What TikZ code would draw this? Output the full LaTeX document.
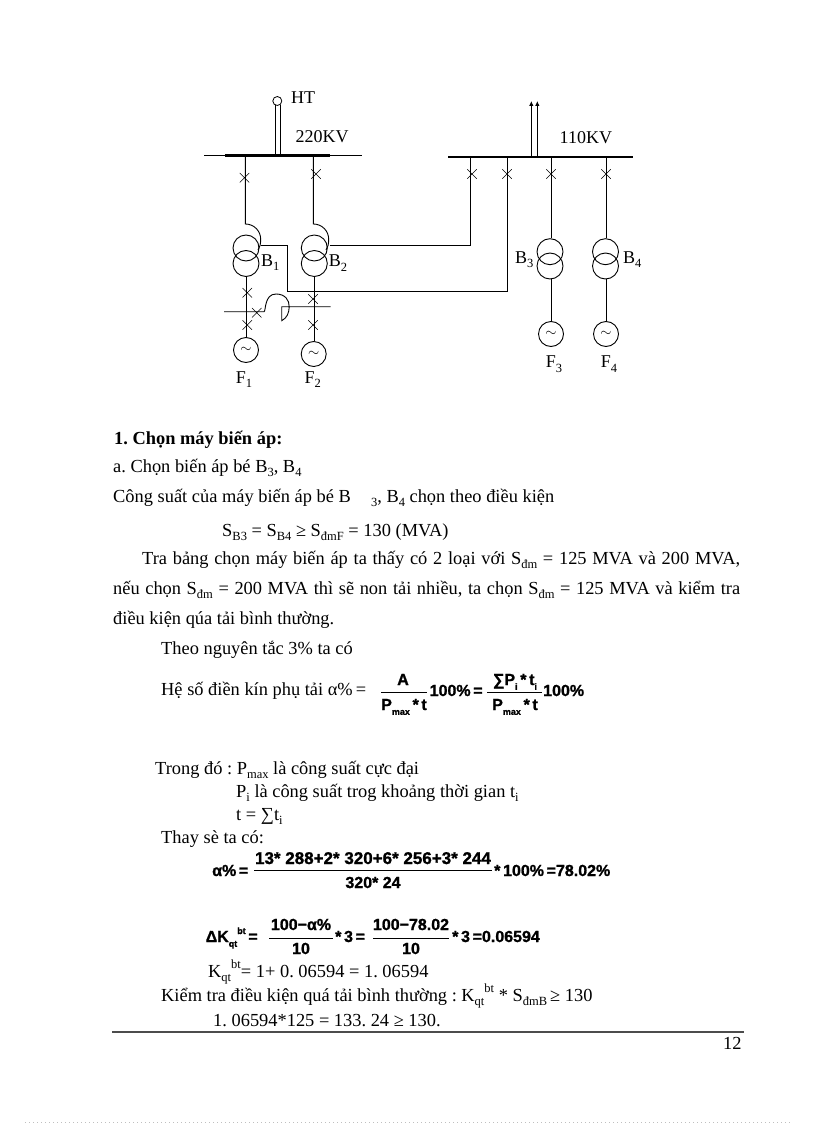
\documentclass[tikz,border=0pt]{standalone}
\usepackage{fontspec}
\setmainfont{Liberation Serif}
\newfontfamily\formulafont{Liberation Sans Bold}[FakeBold=1.2]
\usetikzlibrary{arrows.meta,shapes.misc}
\AtBeginDocument{\frenchspacing}
\tikzset{
 busbar/.style = {line width=1.6pt},
 wire/.style = {line width=0.9pt},
 fracbar/.style = {line width=0.8pt},
 label/.style = {anchor=base west, inner sep=0pt, font=\fontsize{18}{20}\selectfont},
 bodytext/.style = {anchor=base west, inner sep=0pt, font=\fontsize{18.4}{20}\selectfont},
 formula/.style = {inner sep=0pt, anchor=base west, font=\fontsize{16}{18}\formulafont},
 formulamid/.style = {formula, anchor=base},
 gencircle/.style = {shape=circle, draw, line width=0.9pt, minimum size=25pt, inner sep=0pt, font=\fontsize{15}{15}\selectfont},
 coil/.style = {shape=circle, draw, line width=0.9pt, minimum size=26pt, inner sep=0pt},
 brk/.style = {cross out, draw, line width=0.5pt, minimum size=9pt, inner sep=0pt}
}
\newcommand{\sbs}[1]{\raisebox{-0.25em}{\fontsize{12.5}{13}\selectfont #1}}
\newcommand{\sps}[1]{\raisebox{0.45em}{\fontsize{12.5}{13}\selectfont #1}}
\newcommand{\fsb}[1]{\raisebox{-0.3em}{\fontsize{9}{10}\selectfont #1}}
\newcommand{\fsp}[1]{\raisebox{0.5em}{\fontsize{9}{10}\selectfont #1}}
\begin{document}
\begin{tikzpicture}[x=1pt,y=-1pt]
\useasboundingbox (0,0) rectangle (816,1123);
% 220KV side
\coordinate (busA) at (204,155.7);
\coordinate (busB) at (362,155.7);
\draw[busbar] (busA) -- (busB);
\draw[line width=2.4pt] (225,155.7) -- (330,155.7);
\node[label] (ht) at (291,104) {HT};
\node[label] (kv220) at (295.5,143) {220KV};
\node[shape=circle, draw, minimum size=9pt, inner sep=0pt, line width=0.8pt] (src) at (277.3,101) {};
\draw[wire] (275.3,105) -- (275.3,155);
\draw[wire] (280.7,105) -- (280.7,155);
% transformers and generators B1, B2
\node[coil] (b1a) at (246,248) {};
\node[coil] (b1b) at (246,263.5) {};
\node[coil] (b2a) at (314.3,248) {};
\node[coil] (b2b) at (314.3,263.5) {};
\node[gencircle] (f1) at (246,350) {$\sim$};
\node[gencircle] (f2) at (313.7,354) {$\sim$};
\draw[wire] (245.3,155.7) -- (245.3,224) .. controls (254,224) and (261,231) .. (260.7,240) .. controls (260.6,244) and (260,247) .. (258,250);
\draw[wire] (313.3,155.7) -- (313.3,224) .. controls (322,224) and (329,231) .. (328.7,240) .. controls (328.6,244) and (328,247) .. (326,250);
\node[brk] (k1) at (244.5,177.7) {};
\node[brk] (k2) at (316,174) {};
\draw[wire] (b1b.south) -- (b1b.south |- f1.north);
\draw[wire] (b2b.south) -- (b2b.south |- f2.north);
\node[brk] (k3) at (247.3,292.7) {};
\node[brk] (k4) at (247.3,325) {};
\node[brk] (k5) at (256.7,312.7) {};
\node[brk] (k6) at (313,299) {};
\node[brk] (k7) at (313,325) {};
\draw[wire] (224,311.7) -- (264,311.7) .. controls (266,311.7) and (264,294) .. (276,294) .. controls (285,294) and (289.5,300) .. (289.2,307) .. controls (289,313) and (287,318) .. (281.7,320.7) -- (281.7,306.7) -- (330.7,306.7);
\node[label] (lb1) at (261,266) {B\sbs{1}};
\node[label] (lb2) at (328.7,266.5) {B\sbs{2}};
\node[label] (lf1) at (235.7,383) {F\sbs{1}};
\node[label] (lf2) at (304.3,383) {F\sbs{2}};
% 110KV side
\coordinate (busC) at (448,157);
\coordinate (busD) at (633,157);
\draw[busbar] (busC) -- (busD);
\draw[wire,-{Latex[length=5pt,width=4.5pt]}] (531.3,157) -- (531.3,101);
\draw[wire,-{Latex[length=5pt,width=4.5pt]}] (537.3,157) -- (537.3,101);
\node[label] (kv110) at (559.5,143.3) {110KV};
\node[brk] (k8) at (472,174) {};
\node[brk] (k9) at (507,174) {};
\node[brk] (k10) at (551,174) {};
\node[brk] (k11) at (606,174) {};
\node[coil] (b3a) at (550,251.7) {};
\node[coil] (b3b) at (550,266) {};
\node[coil] (b4a) at (605.5,251.7) {};
\node[coil] (b4b) at (605.5,266) {};
\node[gencircle] (f3) at (551,334) {$\sim$};
\node[gencircle] (f4) at (606,334) {$\sim$};
\draw[wire] (b3a.north) ++(1,0) -- ++(0,-81);
\draw[wire] (b4a.north) ++(0.5,0) -- ++(0,-81);
\draw[wire] (f3.north) -- (f3.north |- b3b.south);
\draw[wire] (f4.north) -- (f4.north |- b4b.south);
\draw[wire] (b1a.east) ++(2,-2.3) -- (287.7,245.7) -- (287.7,291.7) -- (507.3,291.7) -- (507.3,157);
\draw[wire] (b2a.east) ++(2,-2.3) -- (470.3,245.7) -- (470.3,157);
\node[label] (lb3) at (515,263) {B\sbs{3}};
\node[label] (lb4) at (623,263) {B\sbs{4}};
\node[label] (lf3) at (545.7,367.7) {F\sbs{3}};
\node[label] (lf4) at (600.7,367.7) {F\sbs{4}};
% text of the page
\node[bodytext] (t1) at (114,444) {\textbf{1. Chọn máy biến áp:}};
\node[bodytext] (t2) at (113,472) {a. Chọn biến áp bé B\sbs{3}, B\sbs{4}};
\node[bodytext] (t3) at (113,502) {Công suất của máy biến áp bé B\hspace{1.1em}\sbs{3}, B\sbs{4} chọn theo điều kiện};
\node[bodytext] (t4) at (222,536) {S\sbs{B3} = S\sbs{B4} ≥ S\sbs{đmF} = 130 (MVA)};
\node[bodytext] (t5) at (142,564) {\makebox[598pt][s]{Tra bảng chọn máy biến áp ta thấy có 2 loại với S\sbs{đm} = 125 MVA và 200 MVA,}};
\node[bodytext] (t6) at (113,594) {\makebox[627pt][s]{nếu chọn S\sbs{đm} = 200 MVA thì sẽ non tải nhiều, ta chọn S\sbs{đm} = 125 MVA và kiểm tra}};
\node[bodytext] (t7) at (113,624) {điều kiện qúa tải bình thường.};
\node[bodytext] (t8) at (161,654) {Theo nguyên tắc 3\% ta có};
\node[bodytext] (t9) at (161,695) {Hệ số điền kín phụ tải α\%\,=};
\node[formulamid] (a1) at (403,685) {A};
\draw[fracbar] (381,692.7) -- (427,692.7);
\node[formulamid] (a2) at (404,710) {P\fsb{max}\,*\,t};
\node[formula] (a3) at (429.5,696) {100\%\,=};
\node[formulamid] (a4) at (515,685) {∑P\fsb{i}\,*\,t\fsb{i}};
\draw[fracbar] (487,692.7) -- (542,692.7);
\node[formulamid] (a5) at (515,710) {P\fsb{max}\,*\,t};
\node[formula] (a6) at (543,696) {100\%};
\node[bodytext] (t10) at (155,774) {Trong đó : P\sbs{max} là công suất cực đại};
\node[bodytext] (t11) at (236,797) {P\sbs{i} là công suất trog khoảng thời gian t\sbs{i}};
\node[bodytext] (t12) at (236,820) {t = ∑t\sbs{i}};
\node[bodytext] (t13) at (161,843) {Thay sè ta có:};
\node[formula] (b1) at (212,876) {α\%\,=};
\node[formulamid, font=\fontsize{17}{18}\formulafont] (b2) at (373,864) {13* 288+2* 320+6* 256+3* 244};
\draw[fracbar] (254,870) -- (492,870);
\node[formulamid] (b3) at (373,888) {320* 24};
\node[formula] (b4) at (494,876) {*\,100\%\,=78.02\%};
\node[formula] (c1) at (205.5,942) {ΔK\fsb{qt}\fsp{bt}\,=};
\node[formulamid] (c2) at (301,930) {100−α\%};
\draw[fracbar] (269,938) -- (333,938);
\node[formulamid] (c3) at (301,954) {10};
\node[formula] (c4) at (335,942) {*\,3\,=};
\node[formulamid] (c5) at (411,930) {100−78.02};
\draw[fracbar] (373,938) -- (449,938);
\node[formulamid] (c6) at (411,954) {10};
\node[formula] (c7) at (452,942) {*\,3\,=0.06594};
\node[bodytext] (t14) at (208,977) {K\sbs{qt}\sps{bt}= 1+ 0. 06594 = 1. 06594};
\node[bodytext] (t15) at (161,1001) {Kiểm tra điều kiện quá tải bình thường : K\sbs{qt}\sps{bt} * S\sbs{đmB}\,≥ 130};
\node[bodytext] (t16) at (213,1026) {1. 06594*125 = 133. 24 ≥ 130.};
\coordinate (ruleA) at (112,1032);
\coordinate (ruleB) at (744,1032);
\draw[line width=1.2pt, black!70] (ruleA) -- (ruleB);
\node[bodytext] (pagenum) at (723,1049) {12};
\coordinate (dotA) at (25,1122);
\coordinate (dotB) at (793,1122);
\draw[line width=0.5pt, black!25, dash pattern=on 1pt off 3pt] (dotA) -- (dotB);
\end{tikzpicture}
\end{document}
